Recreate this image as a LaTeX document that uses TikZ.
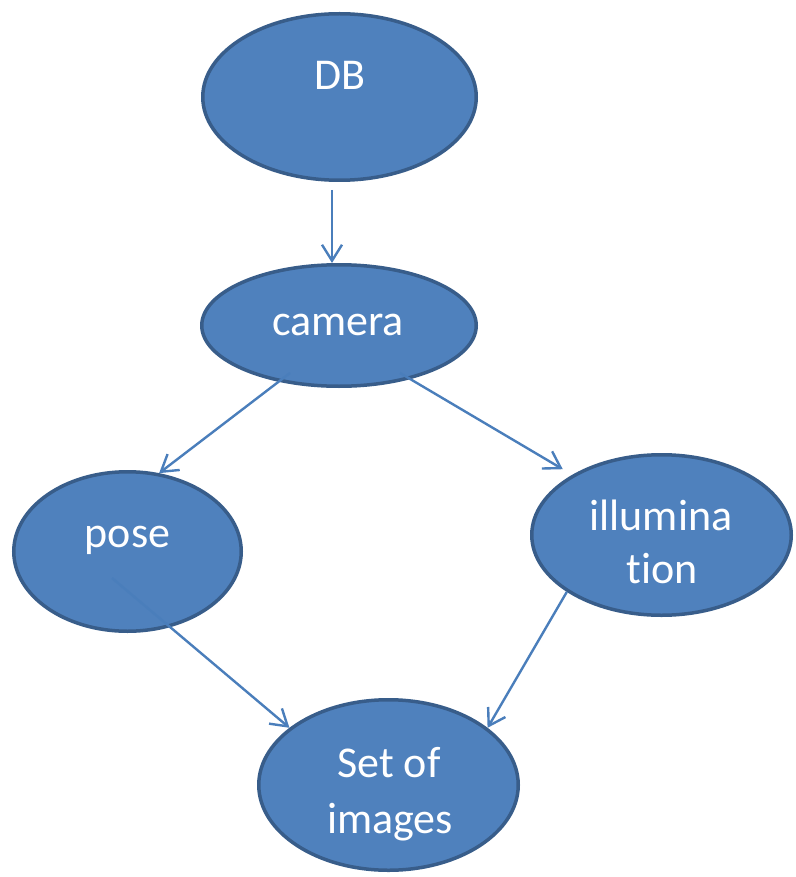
\documentclass[tikz,border=0pt]{standalone}
\usepackage{fontspec}
\setmainfont{Carlito}[Ligatures=NoCommon]
\usetikzlibrary{arrows.meta,calc,shapes.geometric}
\definecolor{shapefill}{HTML}{4F81BD}
\definecolor{shapeedge}{HTML}{385D8A}
\definecolor{linkblue}{HTML}{4A7EBB}
\begin{document}
\begin{tikzpicture}[x=1pt,y=-1pt,
  blob/.style={ellipse,draw=shapeedge,fill=shapefill,line width=3.5pt,inner sep=0pt},
  caption/.style={anchor=base,text=white,font=\fontsize{44}{53}\selectfont,inner sep=0pt},
  link/.style={draw=linkblue,line width=2.4pt,-{Straight Barb[length=16pt,width=20pt]}}]
\useasboundingbox (0,0) rectangle (795,877);

% shapes
\node[blob,minimum width=273.5pt,minimum height=166.5pt] (db)     at (339.5,97)    {};
\node[blob,minimum width=274.5pt,minimum height=121.5pt] (camera) at (339,325.5)   {};
\node[blob,minimum width=227.5pt,minimum height=159.5pt] (pose)   at (127.5,551.5) {};
\node[blob,minimum width=259.5pt,minimum height=160.5pt] (illum)  at (661.5,535)   {};
\node[blob,minimum width=259.5pt,minimum height=170.5pt] (setimg) at (388.5,785)   {};

% labels
\node[caption] (dbtxt)   at (340,90)    {DB};
\node[caption] (camtxt)  at (338,335)   {camera};
\node[caption] (posetxt) at (127.5,547) {pose};
\node[caption] (illtxta) at (661,530)   {illumina};
\node[caption] (illtxtb) at (662,583)   {tion};
\node[caption] (settxta) at (389,777)   {Set of};
\node[caption] (settxtb) at (390,833)   {images};

% connector end points
\coordinate (dbout) at ($(db.south)+(-7.5,8)$);
\coordinate (camL)  at ($(camera.center)+(-49,47.5)$);
\coordinate (camR)  at ($(camera.center)+(61,47.5)$);
\coordinate (poseout) at ($(pose.center)+(-15.5,26.5)$);

% connectors
\draw[link] (dbout) -- (dbout |- camera.north);
\draw[link] (camL) -- (pose.68.7);
\draw[link,shorten >=11pt] (camR) -- (illum.146);
\draw[link] (poseout) -- (setimg.150.6);
\draw[link] (illum.211.5) -- (setimg.30.4);
\end{tikzpicture}
\end{document}
